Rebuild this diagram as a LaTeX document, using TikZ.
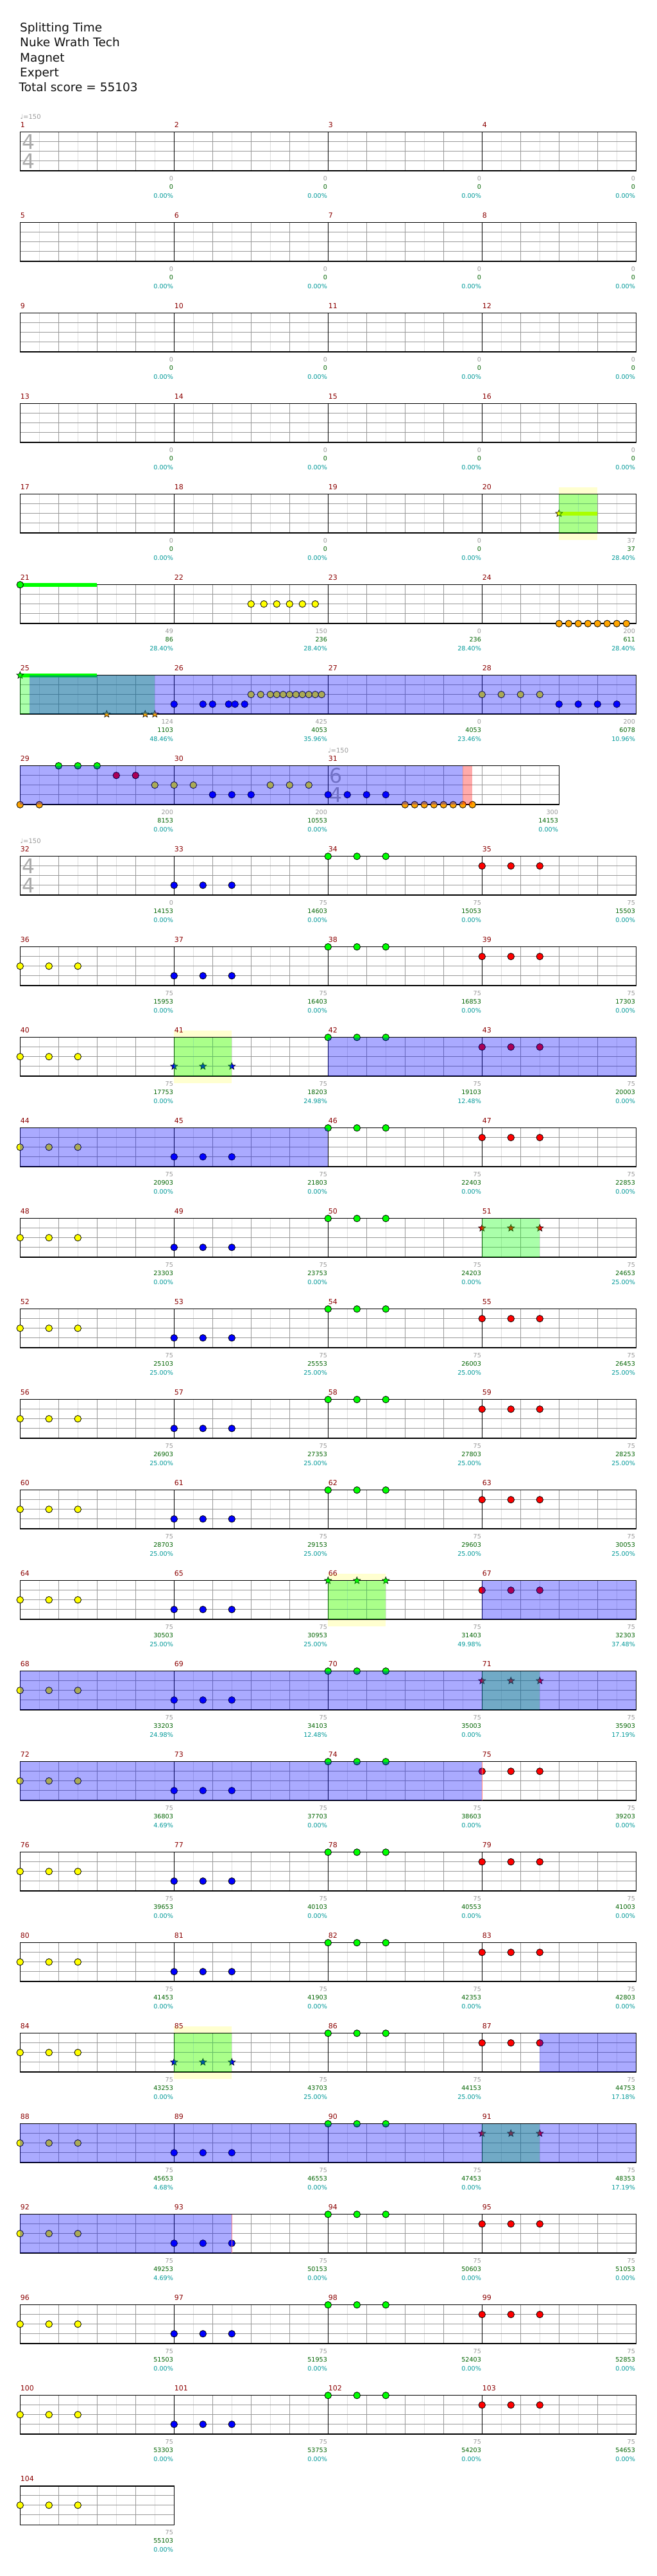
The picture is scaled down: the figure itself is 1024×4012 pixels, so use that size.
\documentclass[tikz,border=0pt]{standalone}
\usepackage{fontspec}
\setmainfont{DejaVu Sans}
\usetikzlibrary{shapes.geometric}
\definecolor{mnumc}{RGB}{139,0,0}
\definecolor{graylab}{RGB}{153,153,153}
\definecolor{greenlab}{RGB}{0,100,0}
\definecolor{teallab}{RGB}{0,153,153}
\definecolor{nG}{RGB}{0,255,0}
\definecolor{nR}{RGB}{255,0,0}
\definecolor{nY}{RGB}{255,255,0}
\definecolor{nB}{RGB}{0,0,255}
\definecolor{nO}{RGB}{255,165,0}
\definecolor{paleyel}{RGB}{255,255,208}
\definecolor{halfc}{RGB}{221,221,221}
\definecolor{beatc}{RGB}{153,153,153}
\definecolor{tsc}{RGB}{170,170,170}
\definecolor{titlec}{RGB}{17,17,17}
\tikzset{
  row/.style={shift={(31.3,205.7+141*#1)}},
  halfline/.style={halfc, line width=1pt},
  beatline/.style={beatc, line width=1pt},
  hline/.style={beatc, line width=1.2pt},
  barline/.style={black, line width=1pt},
  frameline/.style={black, line width=1.5pt},
  note/.style={circle, draw=black, line width=0.8pt, minimum size=10.5pt, inner sep=0pt},
  starnote/.style={star, star points=5, star point ratio=2.3, draw=black, line width=0.6pt, minimum size=11.5pt, inner sep=0pt},
  glab/.style={anchor=base east, inner sep=0pt, font=\fontsize{9.6}{11}\selectfont, text=graylab},
  slab/.style={anchor=base east, inner sep=0pt, font=\fontsize{9.6}{11}\selectfont, text=greenlab},
  plab/.style={anchor=base east, inner sep=0pt, font=\fontsize{9.6}{11}\selectfont, text=teallab},
  mlab/.style={anchor=base west, inner sep=0pt, font=\fontsize{11}{12}\selectfont, text=mnumc},
  tempon/.style={anchor=base west, inner sep=0pt, font=\fontsize{10}{12}\selectfont, text=graylab},
  tsn/.style={anchor=base west, inner sep=0pt, font=\fontsize{31.5}{32}\selectfont, text=tsc},
  titlen/.style={anchor=base west, inner sep=0pt, font=\fontsize{18.5}{22}\selectfont, text=titlec},
  blueov/.style={fill=nB, fill opacity=0.333},
  greenov/.style={fill=nG, fill opacity=0.333},
  redov/.style={fill=nR, fill opacity=0.333},
}
\newcommand\grid[1]{%
  \pgfmathtruncatemacro\gA{#1-30}%
  \foreach \xx in {30,90,...,\gA} {\draw[halfline] (\xx,0) -- (\xx,60.5);}
  \pgfmathtruncatemacro\gB{#1-60}%
  \foreach \xx in {60,120,...,\gB} {\draw[beatline] (\xx,0) -- (\xx,60.5);}
  \foreach \yy in {15,30,45} {\draw[hline] (0,\yy) -- (#1,\yy);}
}
\newcommand\bars[1]{\foreach \xx in {#1} {\draw[barline] (\xx,0) -- (\xx,60.5);}}
\newcommand\stafframe[1]{\draw[frameline] (0,0) rectangle (#1,60.5);}
\newcommand\labs[1]{\foreach \xx/\ga/\gb/\gc in {#1} {%
  \node[glab] at (\xx-1.2,76) {\ga};
  \node[slab] at (\xx-1.2,89) {\gb};
  \node[plab] at (\xx-1.2,102.3) {\gc\%};}}
\newcommand\mnums[1]{\foreach \xx/\nn in {#1} {\node[mlab] at (\xx+0.4,-7.4) {\nn};}}
\newcommand\ts[3]{\node[tsn] at (#3,26.3) {#1}; \node[tsn] at (#3,56.3) {#2};}
\newcommand\tempo[1]{\node[tempon] at (#1,-20) {♩=150};}
\newcommand\nt[3]{\node[note,fill=#1] at (#2,#3) {};}
\newcommand\stn[3]{\node[starnote,fill=#1] at (#2,#3) {};}
\newcommand\tri[3]{\foreach \kk in {0,45,90} {\node[note,fill=#1] at (#3+\kk,#2) {};}}
\newcommand\tristar[3]{\foreach \kk in {0,45,90} {\node[starnote,fill=#1] at (#3+\kk,#2) {};}}
\newcommand\sus[4]{\fill[#1] (#2,#4-3.2) rectangle (#3,#4+3.2);}
\newcommand\pyel[2]{\fill[paleyel] (#1,-10.5) rectangle (#2,71);}
\newcommand\ov[3]{\path[#1] (#2,0) rectangle (#3,60.5);}
\newcommand\stdrow[6]{%
\begin{scope}[row=#1]
#4
\grid{960}\bars{240,480,720}\stafframe{960}
\ifnum#5=0 \tristar{nY}{30}{0}\else\tri{nY}{30}{0}\fi
\ifnum#5=1 \tristar{nB}{45}{240}\else\tri{nB}{45}{240}\fi
\ifnum#5=2 \tristar{nG}{0}{480}\else\tri{nG}{0}{480}\fi
\ifnum#5=3 \tristar{nR}{15}{720}\else\tri{nR}{15}{720}\fi
#6
\pgfmathtruncatemacro\mB{#2+1}\pgfmathtruncatemacro\mC{#2+2}\pgfmathtruncatemacro\mD{#2+3}%
\mnums{0/#2,240/\mB,480/\mC,720/\mD}
\labs{#3}
\end{scope}}
\begin{document}
\begin{tikzpicture}[x=1pt,y=-1pt]
\useasboundingbox (0,0) rectangle (1024,4012);
\fill[white] (0,0) rectangle (1024,4012);
\node[titlen] (t1) at (31,50) {Splitting Time};
\node[titlen] (t2) at (31,73) {Nuke Wrath Tech};
\node[titlen] (t3) at (31,96) {Magnet};
\node[titlen] (t4) at (31,119) {Expert};
\node[titlen] (t5) at (29.5,142) {Total score = 55103};
% row 0
\begin{scope}[row=0]
\grid{960}\bars{240,480,720}\stafframe{960}
\ts{4}{4}{3}\tempo{0}
\mnums{0/1,240/2,480/3,720/4}
\labs{240/0/0/0.00,480/0/0/0.00,720/0/0/0.00,960/0/0/0.00}
\end{scope}
\begin{scope}[row=1]
\grid{960}\bars{240,480,720}\stafframe{960}
\mnums{0/5,240/6,480/7,720/8}
\labs{240/0/0/0.00,480/0/0/0.00,720/0/0/0.00,960/0/0/0.00}
\end{scope}
\begin{scope}[row=2]
\grid{960}\bars{240,480,720}\stafframe{960}
\mnums{0/9,240/10,480/11,720/12}
\labs{240/0/0/0.00,480/0/0/0.00,720/0/0/0.00,960/0/0/0.00}
\end{scope}
\begin{scope}[row=3]
\grid{960}\bars{240,480,720}\stafframe{960}
\mnums{0/13,240/14,480/15,720/16}
\labs{240/0/0/0.00,480/0/0/0.00,720/0/0/0.00,960/0/0/0.00}
\end{scope}
% row 4: 17-20
\begin{scope}[row=4]
\pyel{840}{900}
\grid{960}\bars{240,480,720}\stafframe{960}
\sus{nY}{840}{900}{30}
\stn{nY}{840}{30}
\ov{greenov}{840}{900}
\mnums{0/17,240/18,480/19,720/20}
\labs{240/0/0/0.00,480/0/0/0.00,720/0/0/0.00,960/37/37/28.40}
\end{scope}
% row 5: 21-24
\begin{scope}[row=5]
\grid{960}\bars{240,480,720}\stafframe{960}
\sus{nG}{0}{120}{0}
\nt{nG}{0}{0}
\foreach \xx in {360,380,...,460} {\nt{nY}{\xx}{30}}
\foreach \xx in {840,855,...,945} {\nt{nO}{\xx}{60.5}}
\mnums{0/21,240/22,480/23,720/24}
\labs{240/49/86/28.40,480/150/236/28.40,720/0/236/28.40,960/200/611/28.40}
\end{scope}
% row 6: 25-28
\begin{scope}[row=6]
\grid{960}\bars{240,480,720}\stafframe{960}
\sus{nG}{0}{120}{0}
\stn{nG}{0}{0}
\foreach \xx in {135,195,210} {\stn{nO}{\xx}{60.5}}
\foreach \xx in {240,285,300,325,335,350} {\nt{nB}{\xx}{45}}
\foreach \xx in {360,375,390,400,410,...,470} {\nt{nY}{\xx}{30}}
\foreach \xx in {720,750,780,810} {\nt{nY}{\xx}{30}}
\foreach \xx in {840,870,900,930} {\nt{nB}{\xx}{45}}
\ov{greenov}{0}{210}
\ov{blueov}{15}{960}
\mnums{0/25,240/26,480/27,720/28}
\labs{240/124/1103/48.46,480/425/4053/35.96,720/0/4053/23.46,960/200/6078/10.96}
\end{scope}
% row 7: 29-31
\begin{scope}[row=7]
\grid{840}\bars{240,480}\stafframe{840}
\ts{6}{4}{482}\tempo{479.5}
\foreach \xx in {0,30} {\nt{nO}{\xx}{60.5}}
\foreach \xx in {60,90,120} {\nt{nG}{\xx}{0}}
\foreach \xx in {150,180} {\nt{nR}{\xx}{15}}
\foreach \xx in {210,240,270,390,420,450} {\nt{nY}{\xx}{30}}
\foreach \xx in {300,330,360,480,510,540,570} {\nt{nB}{\xx}{45}}
\foreach \xx in {600,615,...,705} {\nt{nO}{\xx}{60.5}}
\ov{blueov}{0}{690}
\ov{redov}{690}{705}
\mnums{0/29,240/30,480/31}
\labs{240/200/8153/0.00,480/200/10553/0.00,840/300/14153/0.00}
\end{scope}
% row 8: 32-35
\begin{scope}[row=8]
\grid{960}\bars{240,480,720}\stafframe{960}
\ts{4}{4}{3}\tempo{0}
\tri{nB}{45}{240}\tri{nG}{0}{480}\tri{nR}{15}{720}
\mnums{0/32,240/33,480/34,720/35}
\labs{240/0/14153/0.00,480/75/14603/0.00,720/75/15053/0.00,960/75/15503/0.00}
\end{scope}
\stdrow{9}{36}{240/75/15953/0.00,480/75/16403/0.00,720/75/16853/0.00,960/75/17303/0.00}{}{-1}{}
\stdrow{10}{40}{240/75/17753/0.00,480/75/18203/24.98,720/75/19103/12.48,960/75/20003/0.00}{\pyel{240}{330}}{1}{\ov{greenov}{240}{330}\ov{blueov}{480}{960}}
\stdrow{11}{44}{240/75/20903/0.00,480/75/21803/0.00,720/75/22403/0.00,960/75/22853/0.00}{}{-1}{\ov{blueov}{0}{480}}
\stdrow{12}{48}{240/75/23303/0.00,480/75/23753/0.00,720/75/24203/0.00,960/75/24653/25.00}{}{3}{\ov{greenov}{720}{810}}
\stdrow{13}{52}{240/75/25103/25.00,480/75/25553/25.00,720/75/26003/25.00,960/75/26453/25.00}{}{-1}{}
\stdrow{14}{56}{240/75/26903/25.00,480/75/27353/25.00,720/75/27803/25.00,960/75/28253/25.00}{}{-1}{}
\stdrow{15}{60}{240/75/28703/25.00,480/75/29153/25.00,720/75/29603/25.00,960/75/30053/25.00}{}{-1}{}
\stdrow{16}{64}{240/75/30503/25.00,480/75/30953/25.00,720/75/31403/49.98,960/75/32303/37.48}{\pyel{480}{570}}{2}{\ov{greenov}{480}{570}\ov{blueov}{720}{960}}
\stdrow{17}{68}{240/75/33203/24.98,480/75/34103/12.48,720/75/35003/0.00,960/75/35903/17.19}{}{3}{\ov{greenov}{720}{810}\ov{blueov}{0}{960}}
\stdrow{18}{72}{240/75/36803/4.69,480/75/37703/0.00,720/75/38603/0.00,960/75/39203/0.00}{}{-1}{\ov{blueov}{0}{720}\draw[nR!50,line width=1pt] (720,0) -- (720,60.5);}
\stdrow{19}{76}{240/75/39653/0.00,480/75/40103/0.00,720/75/40553/0.00,960/75/41003/0.00}{}{-1}{}
\stdrow{20}{80}{240/75/41453/0.00,480/75/41903/0.00,720/75/42353/0.00,960/75/42803/0.00}{}{-1}{}
\stdrow{21}{84}{240/75/43253/0.00,480/75/43703/25.00,720/75/44153/25.00,960/75/44753/17.18}{\pyel{240}{330}}{1}{\ov{greenov}{240}{330}\ov{blueov}{810}{960}}
\stdrow{22}{88}{240/75/45653/4.68,480/75/46553/0.00,720/75/47453/0.00,960/75/48353/17.19}{}{3}{\ov{greenov}{720}{810}\ov{blueov}{0}{960}}
\stdrow{23}{92}{240/75/49253/4.69,480/75/50153/0.00,720/75/50603/0.00,960/75/51053/0.00}{}{-1}{\ov{blueov}{0}{330}\draw[nR!50,line width=1pt] (330,0) -- (330,60.5);}
\stdrow{24}{96}{240/75/51503/0.00,480/75/51953/0.00,720/75/52403/0.00,960/75/52853/0.00}{}{-1}{}
\stdrow{25}{100}{240/75/53303/0.00,480/75/53753/0.00,720/75/54203/0.00,960/75/54653/0.00}{}{-1}{}
\begin{scope}[row=26]
\grid{240}\stafframe{240}
\tri{nY}{30}{0}
\mnums{0/104}
\labs{240/75/55103/0.00}
\end{scope}
\end{tikzpicture}
\end{document}
